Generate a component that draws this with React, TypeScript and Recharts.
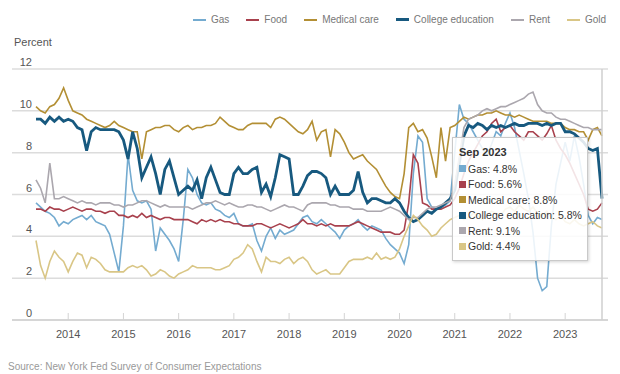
import React from 'react';
import { LineChart, Line, XAxis, YAxis, CartesianGrid, Tooltip } from 'recharts';

const MONTH_NAMES = ['Jan','Feb','Mar','Apr','May','Jun','Jul','Aug','Sep','Oct','Nov','Dec'];
const months: string[] = [];
for (let y = 2013; y <= 2023; y++) {
  for (let m = 0; m < 12; m++) {
    if (y === 2013 && m < 5) continue;
    if (y === 2023 && m > 8) continue;
    months.push(`${MONTH_NAMES[m]} ${y}`);
  }
}

const yearTicks = ['Jan 2014','Jan 2015','Jan 2016','Jan 2017','Jan 2018','Jan 2019','Jan 2020','Jan 2021','Jan 2022','Jan 2023'];
const yTicks = [0, 2, 4, 6, 8, 10, 12];

const gas = [
  5.6,5.4,5.2,5.1,4.9,4.5,4.7,4.6,4.8,4.9,
  5.0,4.8,5.0,4.7,4.6,4.5,4.1,3.2,2.3,4.5,
  7.9,6.2,5.7,5.6,5.7,5.3,3.3,4.4,4.1,3.8,
  3.4,2.8,4.8,7.2,6.8,6.0,5.6,5.5,5.6,5.3,
  5.2,5.0,4.9,5.1,4.6,4.5,4.5,4.6,3.8,3.3,
  4.0,4.4,3.9,4.3,4.1,4.2,4.3,4.6,4.9,5.0,
  4.7,4.6,4.8,4.6,4.4,4.2,3.9,4.3,4.5,4.6,
  4.8,4.5,4.3,4.5,4.4,4.3,3.9,3.6,3.4,3.2,
  2.7,3.6,7.0,8.8,8.5,5.8,5.4,5.3,5.4,5.5,
  5.7,8.0,10.3,9.6,9.4,9.0,8.6,8.2,7.9,8.4,
  9.0,8.8,9.4,9.9,9.2,8.1,7.0,5.8,4.2,2.0,
  1.4,1.6,4.5,6.5,7.5,8.5,7.6,8.8,7.8,6.5,
  5.0,4.6,4.9,4.8,
];

const food = [
  5.3,5.3,5.2,5.4,5.3,5.3,5.2,5.3,5.4,5.3,
  5.2,5.3,5.3,5.2,5.2,5.1,5.2,5.2,5.0,5.0,
  4.9,5.0,4.9,5.1,4.9,5.0,4.9,4.8,4.9,4.9,
  4.8,4.8,4.8,4.8,4.7,4.6,4.8,4.7,4.8,4.7,
  4.8,4.7,4.7,4.6,4.6,4.5,4.5,4.5,4.6,4.6,
  4.5,4.4,4.5,4.6,4.5,4.4,4.5,4.6,4.8,4.6,
  4.6,4.5,4.6,4.5,4.6,4.5,4.5,4.5,4.5,4.6,
  4.7,4.6,4.5,4.4,4.3,4.2,4.2,4.2,4.1,4.1,
  4.3,5.6,7.9,7.5,5.6,5.5,5.3,5.3,5.3,5.4,
  5.5,5.8,6.3,7.0,7.6,8.0,8.4,8.8,9.0,9.4,
  9.6,9.0,9.2,9.3,9.0,8.8,8.6,9.0,9.0,8.8,
  8.6,8.9,9.3,8.6,8.2,7.9,7.5,7.0,6.5,6.0,
  5.3,5.2,5.3,5.6,
];

const medicalCare = [
  10.2,10.0,9.9,10.2,10.3,10.6,11.1,10.5,10.0,9.9,
  9.8,9.6,9.5,9.4,9.3,9.2,9.3,9.5,9.3,9.2,
  9.1,9.0,9.0,7.7,9.0,9.1,9.2,9.2,9.3,9.3,
  9.1,9.0,9.2,9.3,9.1,9.2,9.2,9.3,9.3,9.4,
  9.7,9.5,9.3,9.2,9.1,9.1,9.3,9.4,9.4,9.4,
  9.4,9.2,9.6,9.7,9.6,9.4,9.2,9.0,8.9,9.1,
  9.5,8.6,9.0,9.1,7.8,9.1,8.9,8.5,8.0,7.7,
  7.8,7.9,7.6,7.4,7.2,6.8,6.4,6.1,5.9,5.8,
  7.0,9.2,9.4,9.0,9.1,8.7,7.8,6.8,9.2,7.6,
  9.2,9.3,9.5,9.7,9.6,9.7,9.8,9.8,9.9,9.9,
  10.0,9.9,9.8,9.8,9.7,9.8,9.7,9.6,9.5,9.5,
  9.5,9.5,9.4,9.4,9.4,9.2,9.1,9.1,9.0,9.0,
  8.6,9.1,9.2,8.8,
];

const collegeEducation = [
  9.6,9.6,9.4,9.7,9.5,9.7,9.5,9.6,9.5,9.2,
  9.1,8.1,9.0,9.2,9.1,9.1,9.1,9.1,9.0,8.6,
  7.7,9.0,8.2,6.8,7.3,7.8,7.0,6.0,7.2,7.6,
  6.8,6.0,6.2,6.4,6.2,6.7,5.8,6.8,7.3,6.7,
  6.1,6.0,6.0,7.0,7.3,7.0,7.0,7.2,7.3,6.1,
  6.5,5.9,6.8,7.9,7.8,7.7,6.0,6.0,6.4,6.9,
  7.1,7.1,7.0,6.8,6.0,6.4,6.0,6.0,6.0,6.2,
  7.1,6.1,5.6,5.8,5.8,5.7,5.6,5.6,5.8,5.6,
  5.2,4.9,4.7,4.8,5.0,5.2,5.1,5.3,5.4,5.6,
  5.8,6.2,7.5,8.8,9.3,9.2,9.4,9.3,9.1,9.3,
  9.2,9.3,9.2,9.3,9.4,9.3,9.3,9.4,9.4,9.4,
  9.3,9.4,9.3,9.4,9.4,9.0,9.0,8.9,8.7,8.5,
  8.2,8.1,8.2,5.8,
];

const rent = [
  6.7,6.3,5.6,7.5,5.8,5.8,5.9,5.8,5.7,5.6,
  5.7,5.6,5.6,5.5,5.6,5.6,5.6,5.5,5.5,5.4,
  5.5,5.5,5.6,5.7,5.7,5.6,5.5,5.4,5.5,5.4,
  5.4,5.4,5.4,5.4,5.3,5.4,5.5,5.6,5.6,5.7,
  5.6,5.5,5.6,5.5,5.4,5.4,5.5,5.5,5.4,5.4,
  5.3,5.2,5.3,5.4,5.5,5.4,5.4,5.3,5.2,5.5,
  5.6,5.6,5.6,5.6,5.5,5.5,5.4,5.4,5.4,5.3,
  5.3,5.3,5.2,5.2,5.2,5.2,5.3,5.4,5.3,5.2,
  5.0,4.8,4.9,4.9,5.1,5.3,5.4,5.4,5.5,5.6,
  5.7,6.5,7.8,9.2,9.6,9.7,9.8,10.0,10.1,10.0,
  10.1,10.2,10.2,10.3,10.4,10.5,10.6,10.8,10.9,10.3,
  10.0,9.9,9.9,9.7,9.6,9.6,9.5,9.4,9.3,9.2,
  9.2,9.1,9.1,9.1,
];

const gold = [
  3.8,2.6,2.0,2.8,3.3,3.0,2.8,2.3,2.8,3.2,
  3.1,2.5,3.0,2.9,2.7,2.4,2.3,2.3,2.3,2.3,
  2.5,2.6,2.5,2.6,2.4,2.1,2.2,2.4,2.3,2.1,
  2.0,2.2,2.3,2.4,2.6,2.5,2.5,2.5,2.5,2.4,
  2.4,2.5,2.6,2.9,3.0,3.2,3.6,3.4,2.8,2.3,
  3.0,2.8,2.8,2.7,2.9,3.0,2.7,2.9,3.0,2.8,
  2.4,2.2,2.3,2.4,2.2,2.2,2.2,2.5,2.8,2.9,
  2.9,2.9,3.0,2.9,3.2,2.9,3.0,2.9,3.0,3.4,
  4.0,4.5,5.0,4.8,4.5,4.3,4.0,4.1,4.4,4.6,
  4.8,4.9,5.0,4.8,4.9,5.1,5.0,4.8,5.0,5.2,
  5.1,5.0,5.3,5.4,5.2,5.5,5.3,5.2,5.4,5.1,
  5.0,5.2,4.9,4.8,5.0,4.7,4.6,4.8,4.6,4.5,
  4.6,4.7,4.5,4.4,
];

const SERIES = [
  { key: 'gas', name: 'Gas', values: gas, color: '#74abd0', width: 1.6 },
  { key: 'food', name: 'Food', values: food, color: '#a8414d', width: 1.6 },
  { key: 'medical', name: 'Medical care', values: medicalCare, color: '#b38f34', width: 1.6 },
  { key: 'college', name: 'College education', values: collegeEducation, color: '#17597f', width: 2.8 },
  { key: 'rent', name: 'Rent', values: rent, color: '#aba7ae', width: 1.6 },
  { key: 'gold', name: 'Gold', values: gold, color: '#d9c686', width: 1.6 },
];

const data = months.map((month, i) => {
  const row: Record<string, any> = { month };
  SERIES.forEach((s) => { row[s.key] = s.values[i]; });
  return row;
});

const FONT = 'Arial, "Liberation Sans", sans-serif';

const YTick = (props: any) => {
  const { y, payload } = props;
  return (
    <text x={32} y={y - 3} textAnchor="end" fontSize={11} fill="#555" fontFamily={FONT}>
      {payload.value}
    </text>
  );
};

const XTick = (props: any) => {
  const { x, y, payload } = props;
  return (
    <g>
      <line x1={x} x2={x} y1={y - 7} y2={y} stroke="#d4d4d4" strokeWidth={1} />
      <text x={x} y={y + 18} textAnchor="middle" fontSize={11} fill="#555" fontFamily={FONT}>
        {String(payload.value).slice(4)}
      </text>
    </g>
  );
};

const TooltipBox = (props: any) => {
  const { active, payload, label } = props;
  if (!active || !payload || !payload.length) return null;
  return (
    <div
      style={{
        background: 'rgba(255,255,255,0.86)',
        border: '1px solid #c9c9c9',
        boxShadow: '1px 1px 3px rgba(0,0,0,0.18)',
        padding: '7px 6px 6px 6px',
        width: 122,
        height: 109,
        fontFamily: FONT,
        fontSize: 10.5,
        color: '#333',
        lineHeight: '15.5px',
        whiteSpace: 'nowrap',
      }}
    >
      <div style={{ fontWeight: 'bold', fontSize: 11, marginBottom: 1 }}>{label}</div>
      {payload.map((p: any) => (
        <div key={p.dataKey}>
          <span
            style={{
              display: 'inline-block',
              width: 7,
              height: 7,
              background: p.color,
              marginRight: 2,
              verticalAlign: 'middle',
              position: 'relative',
              top: -1,
            }}
          />
          {p.name}: {p.value}%
        </div>
      ))}
    </div>
  );
};

export default function App() {
  return (
    <div
      style={{
        position: 'absolute',
        left: 0,
        top: 0,
        width: 620,
        height: 374,
        background: '#fff',
        fontFamily: FONT,
        overflow: 'hidden',
      }}
    >
      <div
        style={{
          position: 'absolute',
          top: 14,
          left: 193,
          display: 'flex',
          gap: 17,
          fontSize: 10,
          color: '#777',
          whiteSpace: 'nowrap',
        }}
      >
        {SERIES.map((s) => (
          <div key={s.key} style={{ display: 'flex', alignItems: 'center' }}>
            <span style={{ display: 'inline-block', width: 13, height: s.key === 'college' ? 3 : 2, background: s.color, marginRight: 5 }} />
            <span>{s.name}</span>
          </div>
        ))}
      </div>
      <div style={{ position: 'absolute', top: 36, left: 14, fontSize: 11, color: '#555' }}>Percent</div>
      <div style={{ position: 'absolute', top: 361, left: 8, fontSize: 10, color: '#999' }}>
        Source: New York Fed Survey of Consumer Expectations
      </div>
      <div style={{ position: 'absolute', left: 0, top: 0 }}>
        <LineChart
          width={620}
          height={374}
          data={data}
          margin={{ top: 69, right: 12, bottom: 24, left: 0 }}
        >
          <CartesianGrid vertical={false} stroke="#dcdcdc" strokeWidth={1.5} />
          <XAxis
            dataKey="month"
            ticks={yearTicks}
            interval={0}
            padding={{ left: 24, right: 6 }}
            height={30}
            tickSize={0}
            tickMargin={0}
            tickLine={false}
            axisLine={{ stroke: '#d0d0d0', strokeWidth: 1.5 }}
            tick={<XTick />}
          />
          <YAxis
            domain={[0, 12]}
            ticks={yTicks}
            width={12}
            interval={0}
            axisLine={false}
            tickLine={false}
            tick={<YTick />}
          />
          <Tooltip
            active={true}
            defaultIndex={months.length - 1}
            position={{ x: 452, y: 137 }}
            content={<TooltipBox />}
            cursor={{ stroke: '#cfcfcf', strokeWidth: 1.5 }}
            isAnimationActive={false}
          />
          {SERIES.map((s) => (
            <Line
              key={s.key}
              type="linear"
              dataKey={s.key}
              name={s.name}
              stroke={s.color}
              strokeWidth={s.width}
              dot={false}
              activeDot={false}
              isAnimationActive={false}
            />
          ))}
        </LineChart>
      </div>
    </div>
  );
}
